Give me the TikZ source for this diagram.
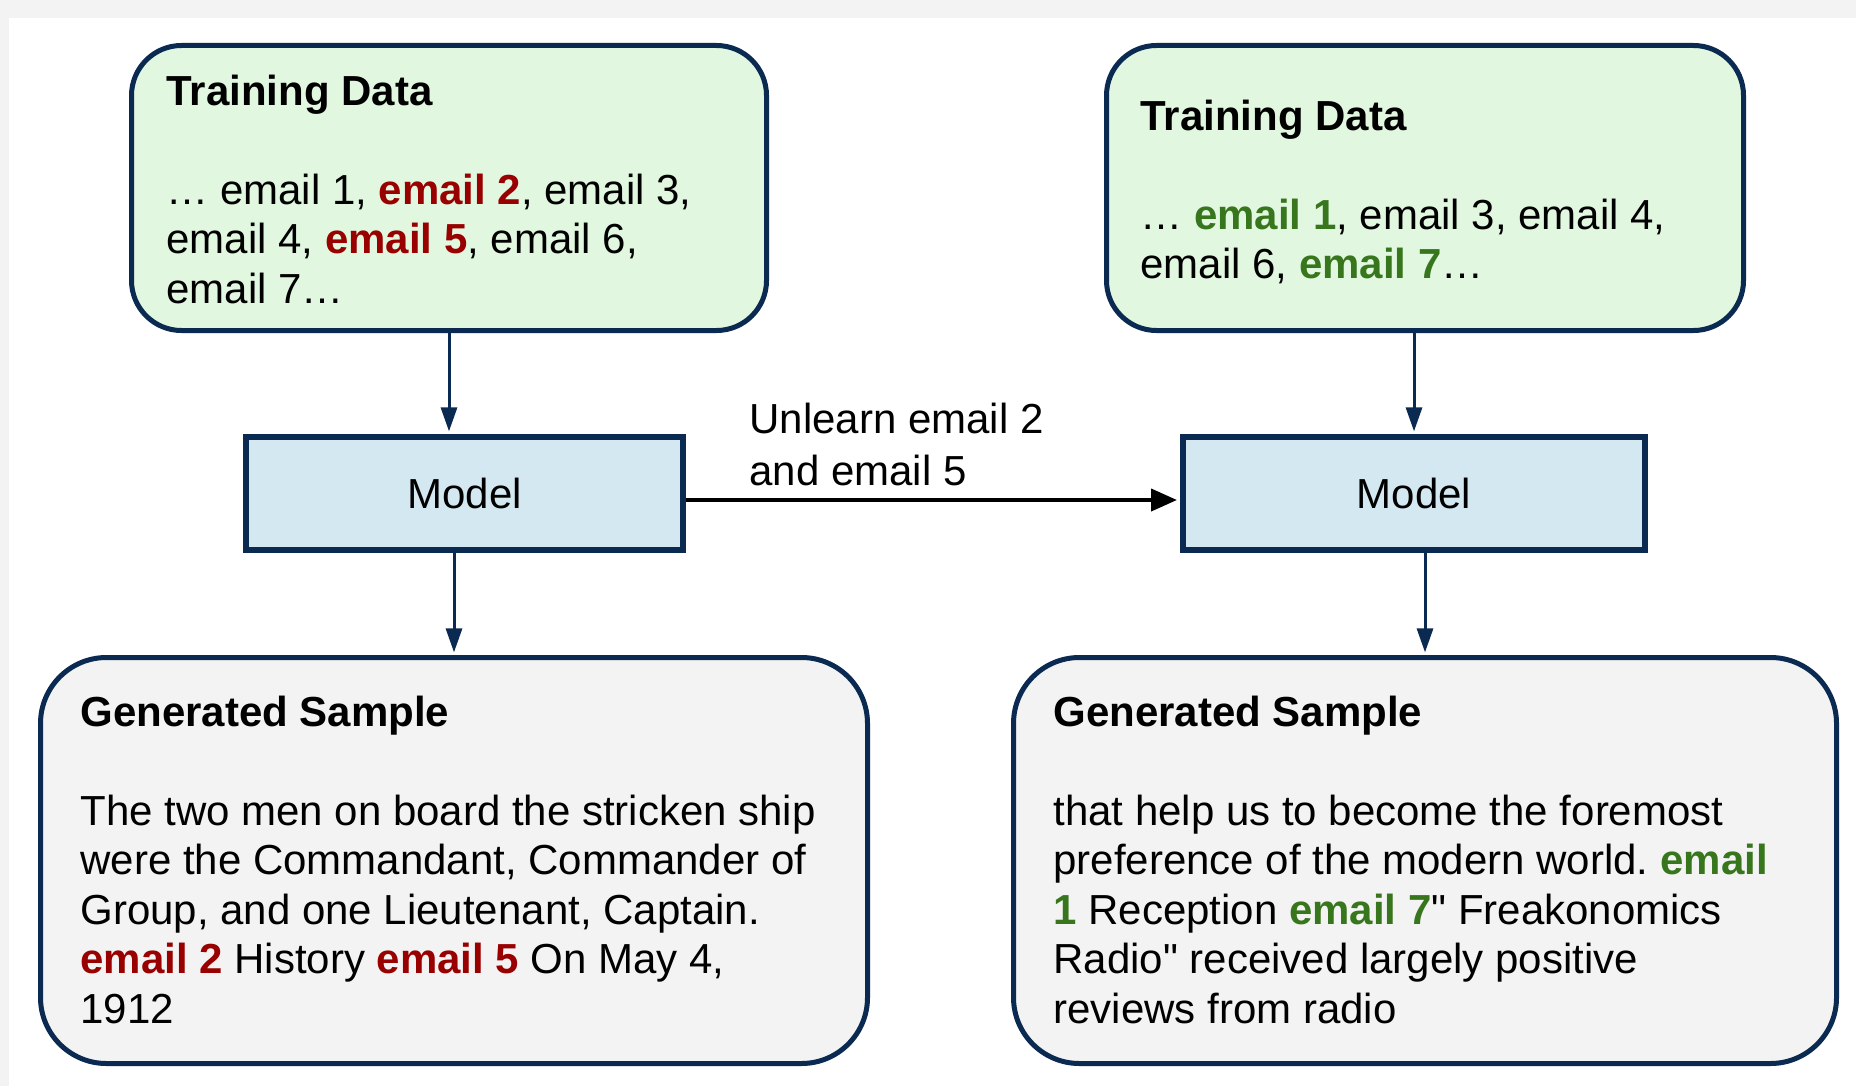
\documentclass[tikz,border=0pt]{standalone}
\usepackage{fontspec}
\setmainfont{Liberation Sans}
\newfontfamily\plainq{Liberation Sans}
\usetikzlibrary{arrows.meta}
\definecolor{navy}{HTML}{0B2A52}
\definecolor{tdfill}{HTML}{E1F7E0}
\definecolor{mfill}{HTML}{D3E8F0}
\definecolor{gfill}{HTML}{F3F3F3}
\definecolor{bgray}{HTML}{F3F3F3}
\definecolor{emred}{HTML}{990000}
\definecolor{emgreen}{HTML}{38761D}
\newcommand\txtlines[2][24.75pt]{\vtop{\baselineskip=#1\lineskiplimit=-100pt\lineskip=0pt #2}}
\newcommand\rd[1]{\textcolor{emred}{\textbf{#1}}}
\newcommand\gr[1]{\textcolor{emgreen}{\textbf{#1}}}
\newcommand\sq{{\plainq"}}
\frenchspacing
\begin{document}
\begin{tikzpicture}[x=0.5pt,y=-0.5pt,
  font=\fontsize{21}{24.75}\selectfont,
  databox/.style={draw=navy, line width=2.5pt, fill=tdfill, rounded corners=25pt, inner sep=0pt},
  modelbox/.style={draw=navy, line width=3pt, fill=mfill, inner sep=0pt},
  genbox/.style={draw=navy, line width=2.5pt, fill=gfill, rounded corners=33pt, inner sep=0pt},
  txt/.style={anchor=base west, inner sep=0pt},
  flow/.style={draw=navy, line width=1.5pt, shorten >=1.3pt, -{Triangle[length=12pt,width=8pt]}},
  unlearn/.style={draw=black, line width=2pt, shorten >=1.5pt, -{Triangle[length=13pt,width=11pt]}}]
\useasboundingbox (0,0) rectangle (1856,1086);
\fill[bgray] (0,0) rectangle (1856,1086);
\fill[white] (9,18) rectangle (1856,1086);

\node[databox, minimum width=317.5pt, minimum height=142.5pt] (td1) at (449,188) {};
\node[databox, minimum width=318.5pt, minimum height=142.5pt] (td2) at (1425,188) {};
\node[modelbox, minimum width=218.5pt, minimum height=56.5pt] (m1) at (464.5,493.5) {Model};
\node[modelbox, minimum width=231pt, minimum height=56.5pt] (m2) at (1414,493.5) {Model};
\node[genbox, minimum width=413.5pt, minimum height=203pt] (g1) at (454,860.5) {};
\node[genbox, minimum width=411.5pt, minimum height=203pt] (g2) at (1425,860.5) {};

\node[txt] (td1t) at (166,105) {\txtlines{\hbox{\textbf{Training Data}}\hbox{}%
  \hbox{… email 1, \rd{email 2}, email 3,}%
  \hbox{email 4, \rd{email 5}, email 6,}%
  \hbox{email 7…}}};
\node[txt] (td2t) at (1140,130) {\txtlines{\hbox{\textbf{Training Data}}\hbox{}%
  \hbox{… \gr{email 1}, email 3, email 4,}%
  \hbox{email 6, \gr{email 7}…}}};
\node[txt] (g1t) at (80,726) {\txtlines{\hbox{\textbf{Generated Sample}}\hbox{}%
  \hbox{The two men on board the stricken ship}%
  \hbox{were the Commandant, Commander of}%
  \hbox{Group, and one Lieutenant, Captain.}%
  \hbox{\rd{email 2} History \rd{email 5} On May 4,}%
  \hbox{1912}}};
\node[txt] (g2t) at (1053,726) {\txtlines{\hbox{\textbf{Generated Sample}}\hbox{}%
  \hbox{that help us to become the foremost}%
  \hbox{preference of the modern world. \gr{email}}%
  \hbox{\gr{1} Reception \gr{email 7}\sq{} Freakonomics}%
  \hbox{Radio\sq{} received largely positive}%
  \hbox{reviews from radio}}};
\node[txt] (ul) at (749,433) {\txtlines[26pt]{\hbox{Unlearn email 2}\hbox{and email 5}}};

\draw[flow] (td1.south) -- (td1.south |- m1.north);
\draw[flow] (m2.north |- td2.south) -- (m2.north);
\draw[flow] (g1.north |- m1.south) -- (g1.north);
\draw[flow] (g2.north |- m2.south) -- (g2.north);
\draw[unlearn] ([yshift=-3.25pt]m1.east) -- ([yshift=-3.25pt]m2.west);
\end{tikzpicture}
\end{document}
